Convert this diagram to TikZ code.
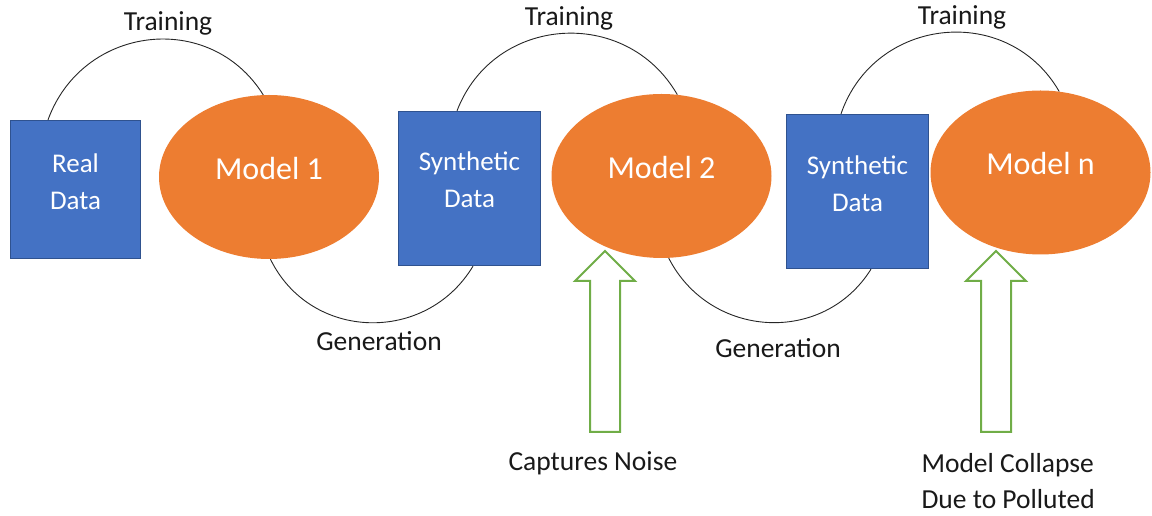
\documentclass[tikz,border=0pt]{standalone}
\usepackage{fontspec}
\setmainfont{Carlito}
\usetikzlibrary{shapes.geometric,shapes.arrows}

\definecolor{boxblue}{HTML}{4472C4}
\definecolor{boxedge}{HTML}{2F528F}
\definecolor{modelorange}{HTML}{ED7D31}
\definecolor{pointgreen}{HTML}{70AD47}

\begin{document}
\begin{tikzpicture}[x=1pt, y=1pt,
    databox/.style={draw=boxedge, line width=1.3pt, fill=boxblue, text=white, align=center,
        font=\fontsize{27}{37}\selectfont},
    model/.style={ellipse, fill=modelorange, text=white, inner sep=0pt,
        minimum width=220pt, minimum height=164pt, text height=22pt, text depth=17pt,
        font=\fontsize{32}{38}\selectfont},
    flow/.style={black!85, line width=0.9pt},
    caption/.style={text=black!90, font=\fontsize{27.5}{36}\selectfont},
    pointer/.style={single arrow, draw=pointgreen, line width=2pt, fill=white, rotate=90,
        inner xsep=0pt, inner ysep=14pt, minimum height=181pt,
        single arrow head extend=15pt, single arrow tip angle=90, anchor=tail}
]
    \useasboundingbox (0,0) rectangle (1152,516);

    % Data boxes
    \node[databox, minimum width=130pt, minimum height=138pt, text depth=15pt] (real) at (75.5,326.5) {Real\\Data};
    \node[databox, minimum width=142pt, minimum height=154pt, text depth=17pt] (syn1) at (469.5,327.5) {Synthetic\\Data};
    \node[databox, minimum width=142pt, minimum height=154pt, text depth=15pt] (syn2) at (857.5,324.5) {Synthetic\\Data};

    % Models
    \node[model] (m1) at (269,339) {Model 1};
    \node[model] (m2) at (661.5,340) {Model 2};
    \node[model] (mn) at (1040.5,343.5) {Model n};

    % Training arcs (data -> model)
    \draw[flow] ([xshift=-27.5pt]real.north) to[out=70, in=122, looseness=1.19] (m1.94);
    \draw[flow] ([xshift=-12.5pt]syn1.north) to[out=69, in=120, looseness=1.19] (m2.79);
    \draw[flow] ([xshift=-16.5pt]syn2.north) to[out=71, in=120, looseness=1.2] (mn.77);

    % Generation arcs (model -> data)
    \draw[flow] (m1.-89) to[out=-64, in=239, looseness=1.15] ([xshift=3.5pt]syn1.south);
    \draw[flow] (m2.-85) to[out=-63, in=238, looseness=1.14] ([xshift=13.5pt]syn2.south);

    % Labels
    \foreach \x/\y/\n in {168/485/tr1, 569/490/tr2, 962/491/tr3}
        \node[caption, anchor=base] (\n) at (\x,\y) {Training};
    \node[caption, anchor=base] (gen1) at (379,165) {Generation};
    \node[caption, anchor=base] (gen2) at (778,158) {Generation};

    % Notes below the models
    \node[caption, anchor=base west] (noise) at (505,45) {Captures Noise};
    \node[caption, anchor=base west, align=left] (collapse) at (918,7) {Model Collapse\\Due to Polluted};

    \node[pointer] (ar1) at (605,83) {};
    \node[pointer] (ar2) at (996,83) {};
\end{tikzpicture}
\end{document}
